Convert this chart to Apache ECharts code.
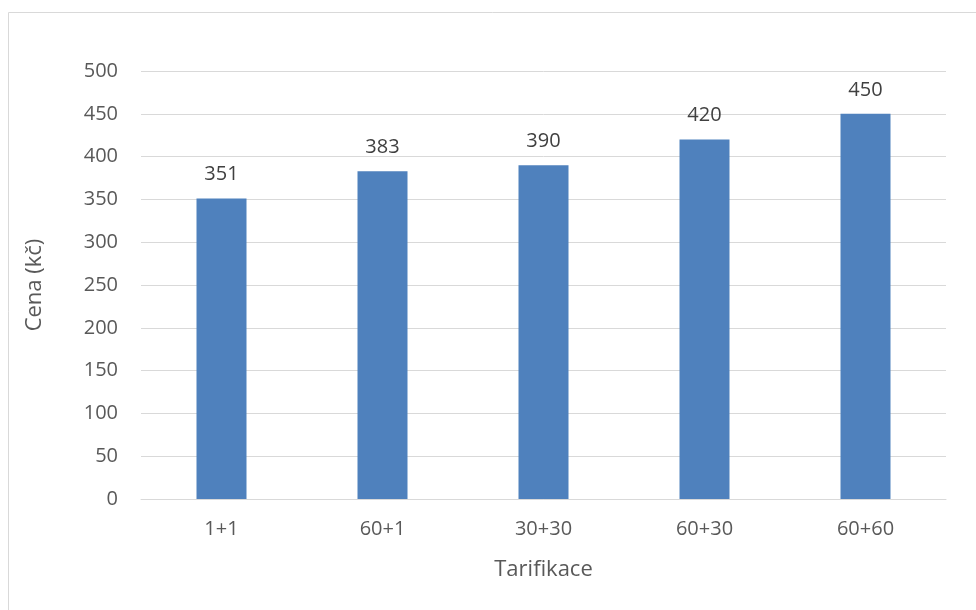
<!DOCTYPE html>
<html>
<head>
<meta charset="utf-8">
<script src="https://cdn.jsdelivr.net/npm/echarts@6/dist/echarts.min.js"></script>
<style>
  html, body { margin: 0; padding: 0; background: #fff; }
  #chart { width: 976px; height: 610px; }
</style>
</head>
<body>
<div id="chart"></div>
<script>
const categories = ['1+1', '60+1', '30+30', '60+30', '60+60'];
const prices = [351, 383, 390, 420, 450];
const yTicks = { min: 0, max: 500, interval: 50 };

const TEXT = '#595959';
const FONT = 'Open Sans, Noto Sans, sans-serif';

const chart = echarts.init(document.getElementById('chart'));

chart.setOption({
  animation: false,
  textStyle: { fontFamily: FONT },
  graphic: [{
    type: 'rect',
    shape: { x: 8.5, y: 12.5, width: 1200, height: 1000 },
    style: { fill: 'none', stroke: '#d9d9d9', lineWidth: 1 },
    silent: true
  }],
  grid: { left: 141, right: 30, top: 71, bottom: 111 },
  xAxis: {
    type: 'category',
    data: categories,
    name: 'Tarifikace',
    nameLocation: 'middle',
    nameGap: 60,
    nameTextStyle: { color: TEXT, fontSize: 22, fontFamily: FONT },
    axisLine: { lineStyle: { color: '#d9d9d9', width: 1 } },
    axisTick: { show: false },
    axisLabel: { color: TEXT, fontSize: 20, margin: 20, fontFamily: FONT }
  },
  yAxis: {
    type: 'value',
    min: yTicks.min,
    max: yTicks.max,
    interval: yTicks.interval,
    name: 'Cena (kč)',
    nameLocation: 'middle',
    nameGap: 95,
    nameRotate: 90,
    nameTextStyle: { color: TEXT, fontSize: 22, fontFamily: FONT },
    axisLine: { show: false },
    axisTick: { show: false },
    axisLabel: { color: TEXT, fontSize: 20, margin: 23, fontFamily: FONT },
    splitLine: { lineStyle: { color: '#d9d9d9', width: 1 } }
  },
  series: [{
    type: 'bar',
    data: prices,
    barWidth: 50,
    itemStyle: { color: '#4f81bd' },
    label: {
      show: true,
      position: 'top',
      distance: 14,
      color: '#404040',
      fontSize: 20,
      fontFamily: FONT
    }
  }]
});
</script>
</body>
</html>
